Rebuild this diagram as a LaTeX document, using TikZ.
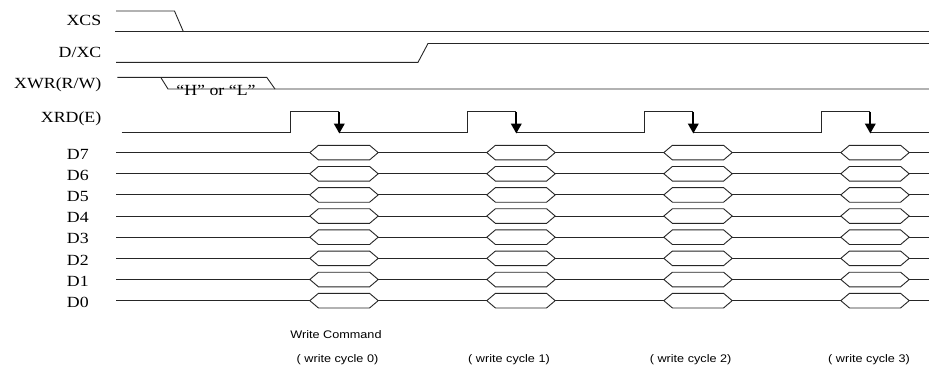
\documentclass[tikz,border=0pt]{standalone}
\usepackage{fontspec}
\setmainfont[FakeStretch=1.15]{Liberation Serif}
\setsansfont[FakeStretch=1.15]{Liberation Sans}
\usetikzlibrary{arrows.meta}
\tikzset{
  sig/.style={line width=0.9pt, draw=black!85},
  lbl/.style={anchor=base east, inner sep=0pt, font=\fontsize{15.5}{18}\selectfont},
  dlbl/.style={anchor=base west, inner sep=0pt, font=\fontsize{15.5}{18}\selectfont},
  cyc/.style={anchor=base, inner sep=0pt, font=\sffamily\fontsize{11}{13}\selectfont},
  edgearrow/.style={line width=2.2pt, -{Triangle[width=10.5pt,length=10pt]}, shorten >=0pt},
  hexbox/.style={line width=0.9pt, draw=black!85, fill=white}
}
\begin{document}
\begin{tikzpicture}[x=1pt,y=-1pt]
\useasboundingbox (0,0) rectangle (929,367);
% labels
\node[lbl] (lxcs) at (101.5,25) {XCS};
\node[lbl] (ldxc) at (101.5,57.5) {D/XC};
\node[lbl] (lxwr) at (101.5,88) {XWR(R/W)};
\node[lbl] (lxrd) at (101.5,122.2) {XRD(E)};
\foreach \k/\n in {0/7,1/6,2/5,3/4,4/3,5/2,6/1,7/0}{
  \node[dlbl] (ld\n) at (66.7,159.3+21.15*\k) {D\n};
}
% XCS
\draw[sig] (116,11) -- (174.5,11) -- (183.3,31.5);
\draw[sig] (115,31.5) -- (929,31.5);
% D/XC
\draw[sig] (116,62.3) -- (418,62.3) -- (428,43.5) -- (929,43.5);
% XWR
\draw[sig] (117.3,77.3) -- (266.7,77.3) -- (275,89);
\draw[sig] (160.7,77.3) -- (168,89) -- (929,89);
\node[inner sep=0pt, anchor=base, font=\fontsize{15.5}{18}\selectfont] (hl) at (216,95.5) {“H” or “L”};
% XRD
\draw[sig] (121.7,132.8) -- (290,132.8) -- (290,111.5) -- (339.3,111.5);
\foreach \i in {0,1,2}{
  \pgfmathsetmacro{\a}{339.3+177*\i}
  \pgfmathsetmacro{\b}{467+177*\i}
  \draw[sig] (\a,132.8) -- (\b,132.8) -- (\b,111.5) -- (\b+49.3,111.5);
}
\draw[sig] (870.3,132.8) -- (929,132.8);
\foreach \i in {0,1,2,3}{
  \pgfmathsetmacro{\a}{339.3+177*\i}
  \draw[edgearrow] (\a,111.5) -- (\a,133.5);
}
% data lines
\foreach \k in {0,...,7}{
  \pgfmathsetmacro{\yy}{152.6+21.15*\k}
  \draw[sig] (116,\yy) -- (929,\yy);
  \foreach \i in {0,1,2,3}{
    \pgfmathsetmacro{\c}{344+177*\i}
    \filldraw[hexbox] (\c-34.2,\yy) -- (\c-25.6,\yy-7.3) -- (\c+25.6,\yy-7.3) -- (\c+34.2,\yy) -- (\c+25.6,\yy+7.3) -- (\c-25.6,\yy+7.3) -- cycle;
  }
}
% cycle labels
\node[cyc] (wc) at (336,338) {Write Command};
\node[cyc] (c0) at (337.5,362) {( write cycle 0)};
\node[cyc] (c1) at (509,362) {( write cycle 1)};
\node[cyc] (c2) at (690.6,362) {( write cycle 2)};
\node[cyc] (c3) at (869,362) {( write cycle 3)};
\end{tikzpicture}
\end{document}
